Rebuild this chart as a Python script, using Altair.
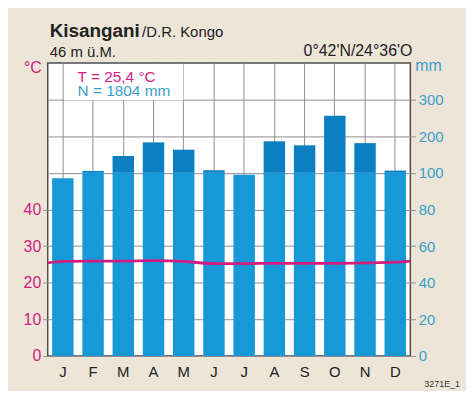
import altair as alt
import pandas as pd

months = ["Jan", "Feb", "Mar", "Apr", "May", "Jun", "Jul", "Aug", "Sep", "Oct", "Nov", "Dec"]
precip_mm = [97, 105, 146, 183, 163, 107, 99, 186, 175, 256, 181, 106]
temp_c = [25.8, 25.9, 25.9, 26.0, 25.8, 25.2, 25.2, 25.3, 25.3, 25.3, 25.4, 25.6]
temp_edge_c = [25.4, 25.9]  # read at the left and right frame edges
left_ticks = [0, 10, 20, 30, 40]
right_ticks = [0, 10, 20, 30, 40, 50, 60, 70]

W, H = 365, 295
MAGENTA = "#d01d7f"
TEAL = "#3a9fc8"
LIGHT = "#1799d8"
DARK = "#0b7fc2"
GRID = "#8e8e8e"
BG = "#ede6d8"
FONT = "Liberation Sans"

df = pd.DataFrame({"month": months, "precip": precip_mm})
line_df = pd.DataFrame({
    "pos": [0] + [i + 0.5 for i in range(12)] + [12],
    "temp": [temp_edge_c[0]] + temp_c + [temp_edge_c[1]],
})

scale_y = alt.Scale(domain=[0, 80], nice=False, zero=True)
band = alt.Scale(domain=months, paddingInner=0.29, paddingOuter=0.145)

base = alt.Chart(df).transform_calculate(
    lo="min(datum.precip, 100) / 2",
    hi="datum.precip > 100 ? 50 + (datum.precip - 100) / 10 : 50",
    b50="50",
)

lower = base.mark_bar(color=LIGHT).encode(
    x=alt.X("month:N", sort=months, scale=band,
            axis=alt.Axis(title=None, labelExpr="substring(datum.label, 0, 1)",
                          labelFontSize=15, labelColor="#222222", labelPadding=9,
                          ticks=False, domain=False, grid=True, gridColor=GRID,
                          gridWidth=1, bandPosition=0.5, labelAngle=0, labelFont=FONT)),
    y=alt.Y("lo:Q", scale=scale_y,
            axis=alt.Axis(orient="left", values=left_ticks, title=None,
                          labelColor=MAGENTA, labelFontSize=16, tickColor=GRID,
                          tickSize=5, labelPadding=2, domain=False, grid=False,
                          labelFont=FONT)),
)

upper = base.transform_filter("datum.precip > 100").mark_bar(color=DARK).encode(
    x=alt.X("month:N", sort=months, scale=band, axis=None),
    y=alt.Y("hi:Q", scale=scale_y,
            axis=alt.Axis(orient="right", values=right_ticks, title=None,
                          labelExpr="datum.value <= 50 ? datum.value * 2 : (datum.value - 50) * 10 + 100",
                          labelColor=TEAL, labelFontSize=15, tickColor=GRID,
                          tickSize=5, labelPadding=3, domain=False, grid=True,
                          gridColor=GRID, gridWidth=1, labelFont=FONT)),
    y2="b50:Q",
)

line = alt.Chart(line_df).mark_line(color=MAGENTA, strokeWidth=2.8, interpolate="monotone").encode(
    x=alt.X("pos:Q", scale=alt.Scale(domain=[0, 12], nice=False, zero=False), axis=None),
    y=alt.Y("temp:Q", scale=scale_y, axis=None),
)

# white box behind the T / N summary text
box = alt.Chart(pd.DataFrame({"k": [0]})).mark_rect(color="white").encode(
    x=alt.value(16.5), x2=alt.value(136.5), y=alt.value(1), y2=alt.value(37.5)
)


def txt(s, x, y, size, color="#222222", weight="normal", align="left"):
    return alt.Chart(pd.DataFrame({"t": [s]})).mark_text(
        fontSize=size, color=color, fontWeight=weight, align=align,
        baseline="alphabetic", font=FONT,
    ).encode(text="t:N", x=alt.value(x), y=alt.value(y))


texts = [
    txt("Kisangani", 2, -26, 19, weight="bold"),
    txt("/D.R. Kongo", 95, -26, 15),
    txt("46 m ü.M.", 2, -6, 15),
    txt("0°42'N/24°36'O", 367, -7, 16, align="right"),
    txt("°C", -6, 10, 16, color=MAGENTA, align="right"),
    txt("mm", 370, 8, 16, color=TEAL),
    txt("T = 25,4 °C", 30, 19, 15.5, color=MAGENTA),
    txt("N = 1804 mm", 30, 33.5, 15.5, color=TEAL),
    txt("3271E_1", 379, 326, 9, color="#333333"),
]

chart = alt.layer(lower, upper, line, box, *texts).resolve_scale(
    x="independent", y="independent"
).properties(
    width=W, height=H,
    autosize=alt.AutoSizeParams(type="none"),
    padding={"left": 40, "top": 54, "right": 56, "bottom": 34},
    background=BG,
).configure_view(
    stroke="#4d4d4d", strokeWidth=1.5, fill="white"
).configure_axis(
    labelFont=FONT
)

chart.save("out.html", embed_options={"renderer": "svg", "actions": False})
